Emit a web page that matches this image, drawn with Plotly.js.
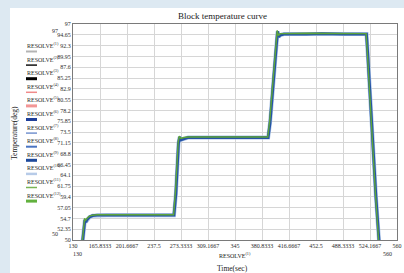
<!DOCTYPE html>
<html>
<head>
<meta charset="utf-8">
<script src="https://cdn.plot.ly/plotly-3.0.1.min.js"></script>
<style>html,body{margin:0;padding:0;background:#dde9f2;}#chart{width:404px;height:273px;}</style>
</head>
<body>
<div id="chart"></div>
<script>
// ---- data ----
var xTickVals = [130, 165.8333, 201.6667, 237.5, 273.3333, 309.1667, 345, 380.8333, 416.6667, 452.5, 488.3333, 524.1667, 560];
var xTickText = ["130", "165.8333", "201.6667", "237.5", "273.3333", "309.1667", "345", "380.8333", "416.6667", "452.5", "488.3333", "524.1667", "560"];
var yTickVals = [50, 52.35, 54.7, 57.05, 59.4, 61.75, 64.1, 66.45, 68.8, 71.15, 73.5, 75.85, 78.2, 80.55, 82.9, 85.25, 87.6, 89.95, 92.3, 94.65, 97];
var yTickText = ["50", "52.35", "54.7", "57.05", "59.4", "61.75", "64.1", "66.45", "68.8", "71.15", "73.5", "75.85", "78.2", "80.55", "82.9", "85.25", "87.6", "89.95", "92.3", "94.65", "97"];

var timeBlue = [142.6, 144.5, 145.8, 147.0, 149.0, 152.0, 156.0, 162.0, 175.0, 200.0, 230.0, 264.0, 266.5, 268.5, 270.0, 271.5, 273.5, 277.0, 283.0, 300.0, 340.0, 389.0, 391.5, 394.0, 397.0, 400.0, 401.5, 403.0, 405.0, 410.0, 440.0, 460.0, 490.0, 519.5, 521.0, 524.0, 528.0, 532.0, 536.5];
var tempBlue = [49.5, 53.0, 54.4, 53.9, 54.5, 55.0, 55.3, 55.4, 55.4, 55.4, 55.4, 55.4, 60.0, 67.0, 71.0, 72.4, 71.8, 72.0, 72.3, 72.3, 72.3, 72.3, 75.5, 80.0, 86.0, 92.5, 95.4, 94.2, 94.6, 94.8, 94.8, 94.9, 94.8, 94.8, 91.0, 82.0, 70.0, 59.5, 49.0];

var timeGreen = [142.2, 144.0, 145.4, 146.8, 149.0, 152.0, 156.0, 162.0, 200.0, 263.5, 266.0, 268.0, 269.6, 271.0, 273.0, 277.0, 283.0, 340.0, 388.5, 391.0, 393.5, 396.5, 399.5, 401.0, 402.6, 405.0, 440.0, 490.0, 519.0, 520.5, 523.5, 527.5, 531.5, 536.0];
var tempGreen = [49.5, 53.4, 54.7, 54.3, 54.8, 55.2, 55.4, 55.5, 55.5, 55.5, 60.5, 67.5, 71.3, 72.6, 72.1, 72.3, 72.4, 72.4, 72.4, 75.8, 80.5, 86.5, 93.0, 95.6, 94.5, 94.9, 95.0, 94.9, 94.9, 91.2, 82.3, 70.3, 59.8, 49.0];

var legendNames = ["RESOLVE<sup>(1)</sup>", "RESOLVE<sup>(2)</sup>", "RESOLVE<sup>(3)</sup>", "RESOLVE<sup>(4)</sup>", "RESOLVE<sup>(5)</sup>", "RESOLVE<sup>(6)</sup>", "RESOLVE<sup>(7)</sup>", "RESOLVE<sup>(8)</sup>", "RESOLVE<sup>(9)</sup>", "RESOLVE<sup>(10)</sup>", "RESOLVE<sup>(11)</sup>", "RESOLVE<sup>(12)</sup>"];
var legendColors = ["#b4b4b4", "#111111", "#000000", "#f08a8a", "#f29696", "#1f3f9a", "#7593cf", "#4a74c2", "#1e4a9c", "#b7cbe8", "#78b455", "#62b13e"];
var legendWidths = [2, 1.5, 3, 1.5, 3, 3, 1.5, 2, 3, 2.5, 1.5, 3];

// ---- layout helpers (pixel -> paper) ----
var L = 73, R = 397, T = 24, B = 240, W = 404, H = 273;
function px(x) { return (x - L) / (R - L); }
function py(y) { return (B - y) / (B - T); }

var serif = "Liberation Serif, Times New Roman, serif";
var tc = "#2a2a2a";

var traces = [
  {x: timeBlue, y: tempBlue, mode: "lines", line: {color: "#a9c2e6", width: 4}, hoverinfo: "skip", name: "RESOLVE(10)"},
  {x: timeBlue, y: tempBlue, mode: "lines", line: {color: "#2553a6", width: 2.8}, name: "RESOLVE(9)"},
  {x: timeGreen, y: tempGreen, mode: "lines", line: {color: "#5ea53a", width: 1.4}, name: "RESOLVE(12)"}
];

var shapes = [
  {type: "rect", xref: "paper", yref: "paper", x0: px(10), x1: px(410), y0: py(280), y1: py(8),
   fillcolor: "#ffffff", line: {width: 0}, layer: "below"}
];
var annotations = [
  {xref: "paper", yref: "paper", x: px(222), y: py(16), text: "Block temperature curve", showarrow: false,
   font: {family: serif, size: 9, color: "#1a1a1a"}, xanchor: "center", yanchor: "middle"},
  {xref: "paper", yref: "paper", x: px(55), y: py(31), text: "97", showarrow: false, font: {family: serif, size: 6, color: tc}, xanchor: "center", yanchor: "middle"},
  {xref: "paper", yref: "paper", x: px(55), y: py(234), text: "50", showarrow: false, font: {family: serif, size: 6, color: tc}, xanchor: "center", yanchor: "middle"},
  {xref: "paper", yref: "paper", x: px(77), y: py(254), text: "130", showarrow: false, font: {family: serif, size: 6, color: tc}, xanchor: "center", yanchor: "middle"},
  {xref: "paper", yref: "paper", x: px(387), y: py(254), text: "560", showarrow: false, font: {family: serif, size: 6, color: tc}, xanchor: "center", yanchor: "middle"},
  {xref: "paper", yref: "paper", x: px(235), y: py(255), text: "RESOLVE<sup>(1)</sup>", showarrow: false, font: {family: serif, size: 6, color: "#222"}, xanchor: "center", yanchor: "middle"},
  {xref: "paper", yref: "paper", x: px(232), y: py(268), text: "Time(sec)", showarrow: false, font: {family: serif, size: 7.5, color: "#222"}, xanchor: "center", yanchor: "middle"},
  {xref: "paper", yref: "paper", x: px(14), y: py(133), text: "Temperature(deg)", textangle: -90, showarrow: false, font: {family: serif, size: 7.5, color: "#222"}, xanchor: "center", yanchor: "middle"}
];

for (var i = 0; i < legendNames.length; i++) {
  var ty = 45 + i * 13.6;
  annotations.push({xref: "paper", yref: "paper", x: px(25), y: py(ty), text: legendNames[i], showarrow: false,
    font: {family: serif, size: 6, color: tc}, xanchor: "left", yanchor: "middle"});
  shapes.push({type: "line", xref: "paper", yref: "paper", x0: px(26), x1: px(37), y0: py(ty + 6.5), y1: py(ty + 6.5),
    line: {color: legendColors[i], width: legendWidths[i]}});
}

var layout = {
  width: W, height: H,
  margin: {l: L, r: W - R, t: T, b: H - B, pad: 0},
  paper_bgcolor: "#dde9f2",
  plot_bgcolor: "#ffffff",
  showlegend: false,
  xaxis: {range: [130, 560], tickmode: "array", tickvals: xTickVals, ticktext: xTickText,
    showgrid: true, gridcolor: "#d6d6d6", gridwidth: 1, zeroline: false,
    showline: true, linecolor: "#7a7a7a", linewidth: 1, mirror: true, ticks: "",
    tickfont: {family: serif, size: 6, color: tc}, tickangle: 0},
  yaxis: {range: [50, 97], tickmode: "array", tickvals: yTickVals, ticktext: yTickText,
    showgrid: true, gridcolor: "#d6d6d6", gridwidth: 1, zeroline: false,
    showline: true, linecolor: "#7a7a7a", linewidth: 1, mirror: true, ticks: "",
    tickfont: {family: serif, size: 6, color: tc}},
  shapes: shapes,
  annotations: annotations
};

Plotly.newPlot("chart", traces, layout, {displayModeBar: false, staticPlot: true});
</script>
</body>
</html>
